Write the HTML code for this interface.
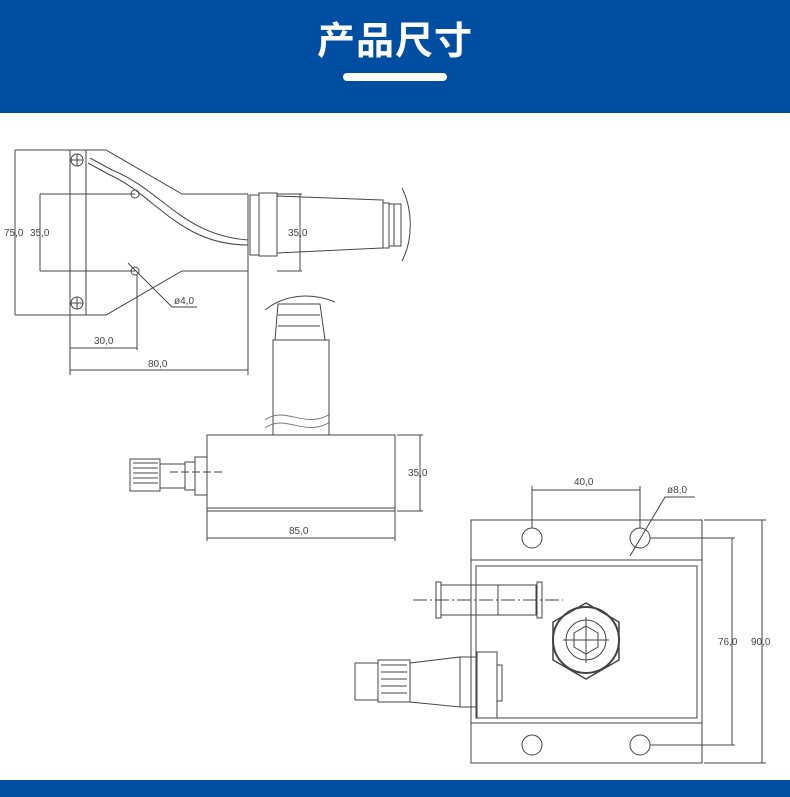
<!DOCTYPE html>
<html><head><meta charset="utf-8"><style>
body{margin:0;width:790px;height:797px;background:#fff;position:relative;overflow:hidden;font-family:"Liberation Sans","Noto Sans CJK SC",sans-serif}
.hd{position:absolute;left:0;top:0;width:790px;height:113px;background:#004ea2}
.tt{position:absolute;left:0;width:790px;top:10px;text-align:center;color:#fff;font-size:38px;font-weight:bold;letter-spacing:1px}
.bar{position:absolute;left:343px;top:73px;width:104px;height:8px;border-radius:4px;background:#fff}
.ft{position:absolute;left:0;top:780px;width:790px;height:17px;background:#004ea2}
svg{position:absolute;left:0;top:0}
text{font-family:"Liberation Sans",sans-serif;font-size:10px;fill:#444}
</style></head><body>
<div class="hd"><div class="tt">产品尺寸</div><div class="bar"></div></div>
<svg width="790" height="797" fill="none" stroke="#444" stroke-width="1">
<!-- Drawing 1 -->
<rect x="70" y="150" width="16" height="165"/>
<circle cx="77" cy="160" r="6"/><path d="M71 160h12M77 154v12"/>
<circle cx="77" cy="303" r="6"/><path d="M71 303h12M77 297v12"/>
<path d="M86 150h20l76 44h66M86 315h20l76-44h66"/>
<path d="M248 194v181"/>
<circle cx="135" cy="194" r="4"/><circle cx="135" cy="271" r="4"/>
<path d="M15 150v165M15 150h55M15 315h55"/>
<path d="M40 194v77M40 194h95M40 271h95"/>
<path d="M90 158l22 12M88 163l22 12"/>
<path d="M112 170c50 20 70 65 136 70M110 175c45 20 70 70 138 70"/>
<rect x="250" y="195" width="9" height="60"/>
<rect x="259" y="193" width="18" height="63"/>
<path d="M277 196l106 4v48l-106 5z"/>
<rect x="383" y="203" width="6" height="45"/><path d="M389 204h12v42h-12M394 204v42"/>
<path d="M402 188c10 20 12 50 0 73"/>
<path d="M277 194h25M277 271h25M300 194v77"/>
<path d="M70 315v60M137 275v75M70 348h67M70 370h178"/>
<path d="M128 263l44 44h25"/>
<!-- Drawing 2 -->
<rect x="207" y="435" width="188" height="76"/><path d="M207 508h188"/>
<path d="M273 435v-95h56v95"/>
<path d="M275 340l3-36h42l5 36"/>
<path d="M278 304h42M278 315h42M278 326h42"/>
<path d="M265 310c15-12 40-20 70-8"/>
<path d="M265 420c20-15 40 10 65-6M265 428c20-15 40 10 65-6" stroke="#777"/>
<rect x="195" y="457" width="12" height="38"/>
<path d="M185 462h10v28h-10zM160 464h25v24h-25z"/>
<rect x="130" y="459" width="30" height="32"/>
<path d="M133 463h25M133 468h25M133 473h25M133 478h25M133 483h25"/>
<path d="M170 472h52" stroke-dasharray="8 3"/>
<path d="M397 435h26M397 511h26M420 435v76M207 511v30M395 511v30M207 538h188"/>
<!-- Drawing 3 -->
<rect x="471" y="520" width="231" height="243"/>
<path d="M471 560h231M471 723h231"/>
<rect x="476" y="566" width="221" height="152"/>
<circle cx="532" cy="538" r="10"/><circle cx="640" cy="538" r="10"/>
<circle cx="532" cy="745" r="10"/><circle cx="640" cy="745" r="10"/>
<path d="M532 528v-42M640 528v-42M532 490h108"/>
<path d="M630 556l35-59h30"/>
<path d="M650 538h85M650 745h85M732 538v207M704 520h62M704 763h62M762 520v243"/>
<path d="M586 603l33 19v38l-33 19l-33-19v-38z" stroke-width="1.5"/>
<circle cx="586" cy="640" r="33" stroke-width="2"/>
<circle cx="586" cy="640" r="20"/>
<path d="M586 626l12 7v14l-12 7l-12-7v-14z"/>
<path d="M563 640h46M586 617v46"/>
<rect x="436" y="582" width="5" height="36"/><rect x="537" y="582" width="5" height="36"/>
<path d="M441 585h95v30h-95zM476 585v30M498 585v30"/>
<path d="M413 600h150" stroke-dasharray="14 3 2 3"/>
<path d="M355 663h23M355 700h23M355 663v37"/>
<rect x="378" y="660" width="32" height="42"/>
<path d="M381 665h26M381 672h26M381 679h26M381 686h26M381 693h26"/>
<path d="M410 663l50-6v50l-50-5"/>
<rect x="460" y="657" width="17" height="50"/>
<rect x="477" y="652" width="20" height="66"/>
<rect x="497" y="665" width="5" height="36"/>
</svg>
<svg width="790" height="797">
<text x="4" y="236">75,0</text><text x="30" y="236">35,0</text>
<text x="288" y="236">35,0</text>
<text x="174" y="304">ø4,0</text>
<text x="94" y="344">30,0</text><text x="148" y="367">80,0</text>
<text x="408" y="476">35,0</text><text x="289" y="534">85,0</text>
<text x="574" y="485">40,0</text><text x="667" y="493">ø8,0</text>
<text x="718" y="645">76,0</text><text x="751" y="645">90,0</text>
</svg>
<div class="ft"></div>
</body></html>
